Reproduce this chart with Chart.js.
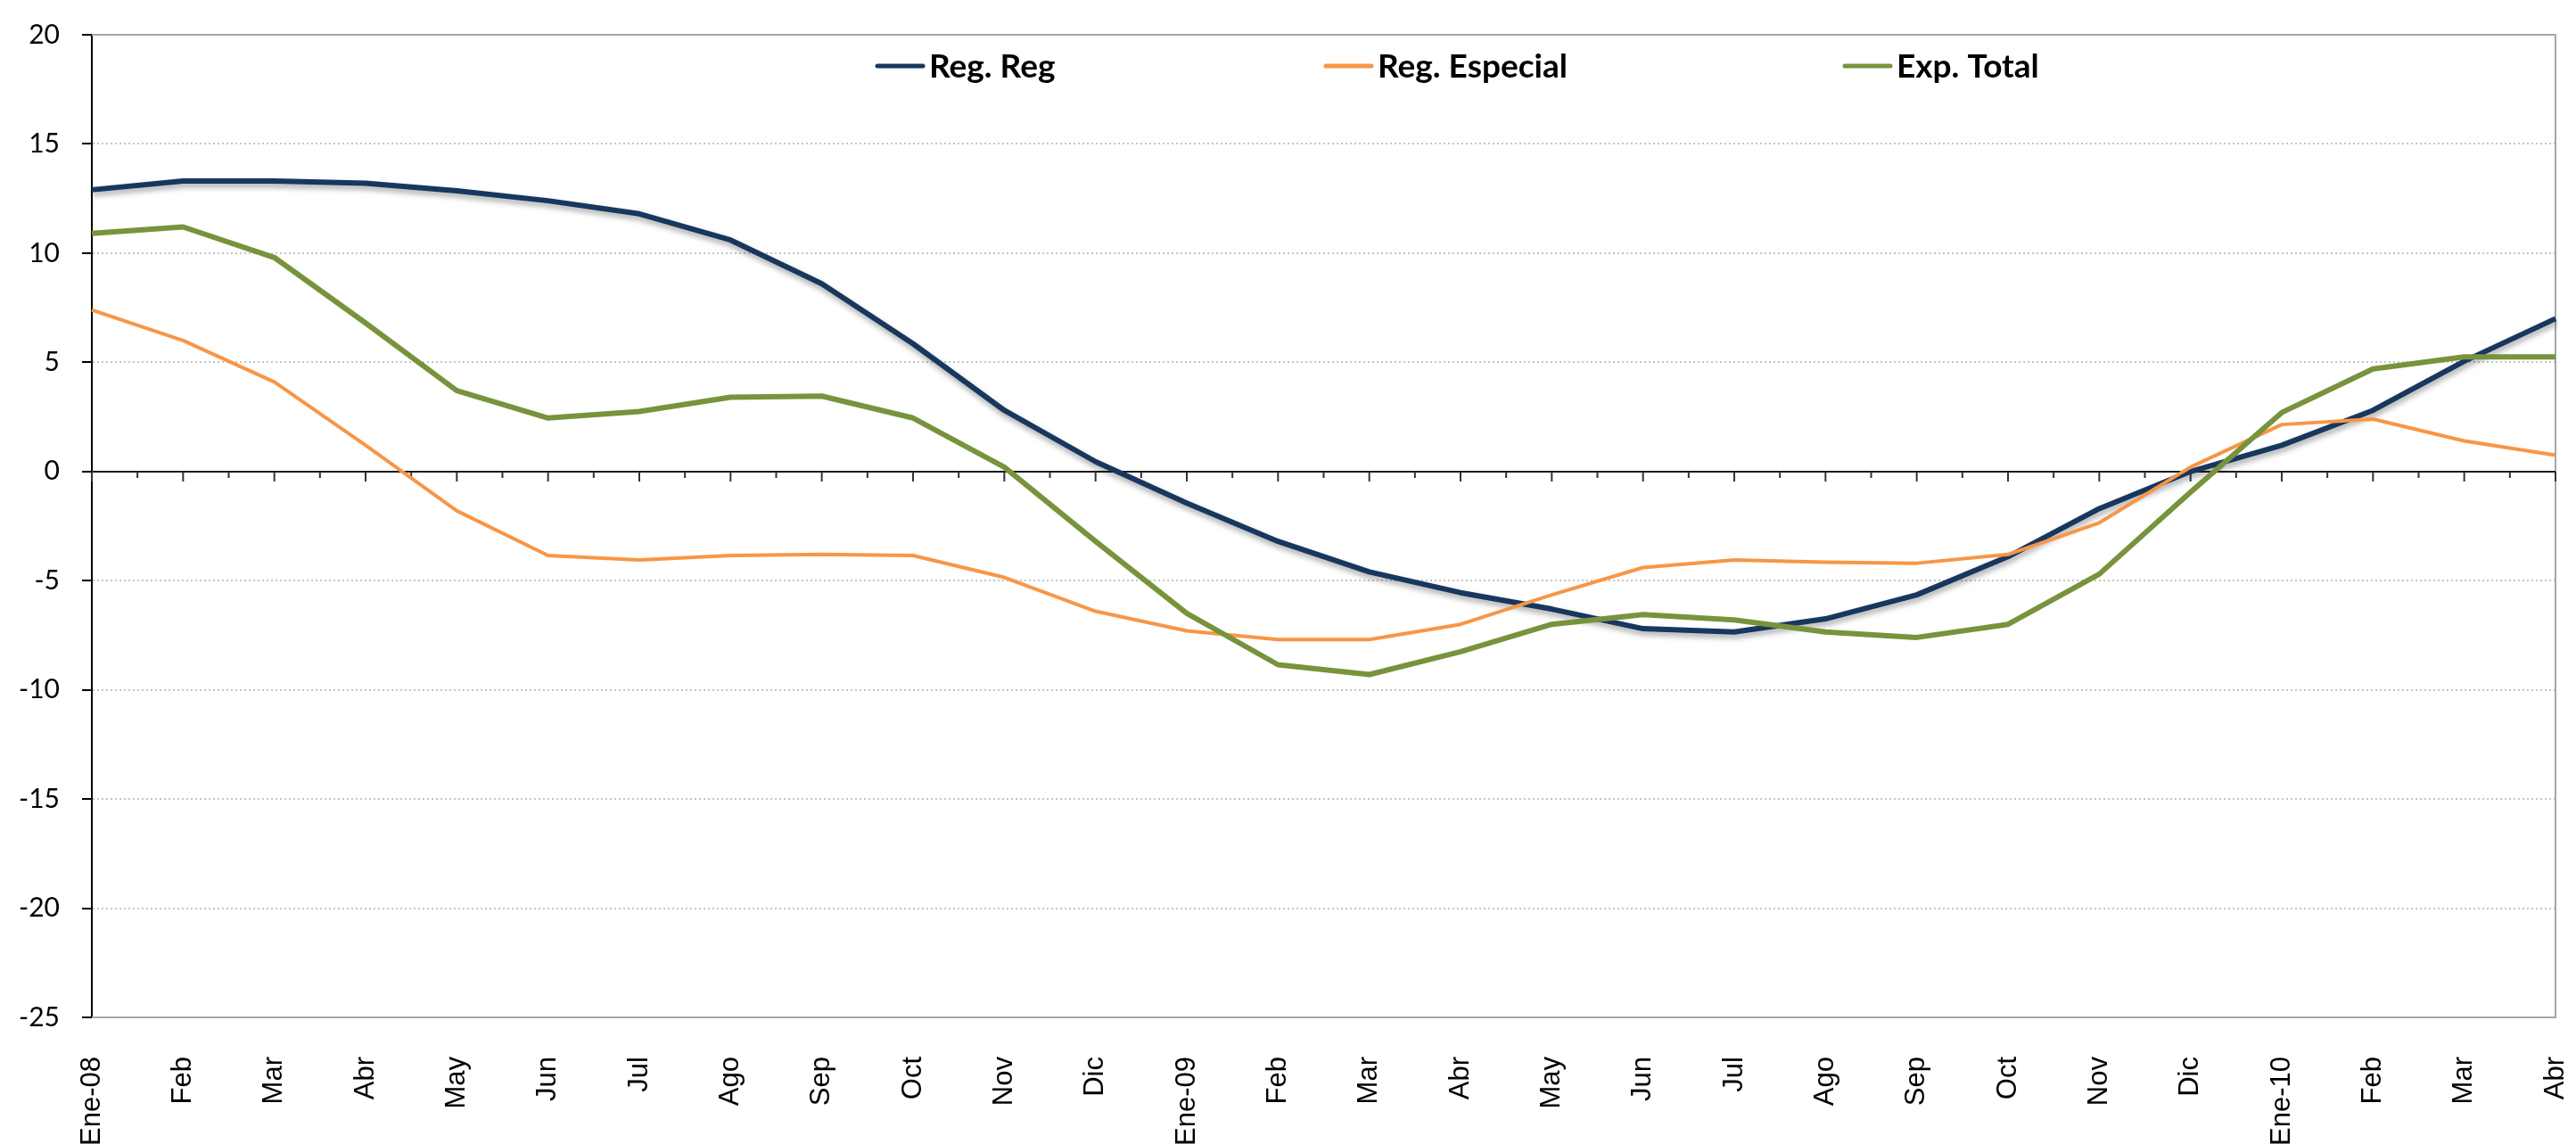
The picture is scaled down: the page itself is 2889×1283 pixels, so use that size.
<!DOCTYPE html>
<html>
<head>
<meta charset="utf-8">
<script src="https://cdn.jsdelivr.net/npm/chart.js@4.4.1/dist/chart.umd.min.js"></script>
<style>
  html, body { margin: 0; padding: 0; background: #fff; overflow: hidden; }
  #wrap { width: 2889px; height: 1283px; }
</style>
</head>
<body>
<div id="wrap"><canvas id="c" width="2889" height="1283" style="width:2889px;height:1283px"></canvas></div>
<script>
const categories = ['Ene-08','Feb','Mar','Abr','May','Jun','Jul','Ago','Sep','Oct','Nov','Dic',
                    'Ene-09','Feb','Mar','Abr','May','Jun','Jul','Ago','Sep','Oct','Nov','Dic',
                    'Ene-10','Feb','Mar','Abr'];
const seriesNames = ['Reg. Reg', 'Reg. Especial', 'Exp. Total'];
const regReg   = [12.9,13.3,13.3,13.2,12.85,12.4,11.8,10.6,8.6,5.85,2.8,0.45,-1.45,-3.2,-4.6,-5.55,-6.3,-7.2,-7.35,-6.75,-5.65,-3.9,-1.7,0.0,1.2,2.8,5.05,7.0];
const regEsp   = [7.4,6.0,4.1,1.2,-1.8,-3.85,-4.05,-3.85,-3.8,-3.85,-4.85,-6.4,-7.3,-7.7,-7.7,-7.0,-5.65,-4.4,-4.05,-4.15,-4.2,-3.8,-2.35,0.2,2.15,2.4,1.4,0.75];
const expTotal = [10.9,11.2,9.8,6.8,3.7,2.45,2.75,3.4,3.45,2.45,0.2,-3.2,-6.5,-8.85,-9.3,-8.25,-7.0,-6.55,-6.8,-7.35,-7.6,-7.0,-4.7,-0.95,2.7,4.7,5.25,5.25];
const yMin = -25, yMax = 20, yStep = 5;

const COLORS = ['#17375E', '#F79646', '#77933C'];

// Shadow for first series
const shadowPlugin = {
  id: 'shadow',
  beforeDatasetDraw(chart, args) {
    if (args.index === 0) {
      const ctx = chart.ctx;
      ctx.save();
      ctx.shadowColor = 'rgba(0,0,0,0.35)';
      ctx.shadowBlur = 6;
      ctx.shadowOffsetX = 1;
      ctx.shadowOffsetY = 4;
    }
  },
  afterDatasetDraw(chart, args) {
    if (args.index === 0) chart.ctx.restore();
  }
};

// Frame, zero line and its ticks
const framePlugin = {
  id: 'frame',
  beforeDatasetsDraw(chart) {
    const {ctx, chartArea: a, scales: {x, y}} = chart;
    ctx.save();
    ctx.strokeStyle = '#a6a6a6';
    ctx.lineWidth = 2;
    ctx.beginPath();
    ctx.moveTo(a.left, a.top); ctx.lineTo(a.right, a.top);
    ctx.lineTo(a.right, a.bottom); ctx.lineTo(a.left, a.bottom);
    ctx.stroke();
    const y0 = Math.round(y.getPixelForValue(0));
    ctx.strokeStyle = '#1a1a1a';
    ctx.lineWidth = 2;
    ctx.beginPath();
    ctx.moveTo(a.left, y0); ctx.lineTo(a.right, y0);
    ctx.stroke();
    ctx.strokeStyle = '#333';
    ctx.lineWidth = 2;
    const n = chart.data.labels.length;
    ctx.beginPath();
    for (let i = 0; i < n; i++) {
      const px = x.getPixelForValue(i);
      ctx.moveTo(px, y0); ctx.lineTo(px, y0 + 11);
      if (i < n - 1) {
        const mx = (px + x.getPixelForValue(i + 1)) / 2;
        ctx.moveTo(mx, y0); ctx.lineTo(mx, y0 + 7);
      }
    }
    ctx.stroke();
    ctx.restore();
  }
};

// Legend inside plot
const legendPlugin = {
  id: 'inlegend',
  afterDraw(chart) {
    const ctx = chart.ctx;
    const starts = [982, 1485, 2067];
    const lineLen = 55, ly = 74;
    ctx.save();
    chart.data.datasets.forEach((ds, i) => {
      const x0 = starts[i];
      ctx.strokeStyle = ds.borderColor;
      ctx.lineWidth = 5;
      ctx.lineCap = 'round';
      ctx.beginPath();
      ctx.moveTo(x0 + 2, ly); ctx.lineTo(x0 + lineLen - 2, ly);
      ctx.stroke();
      ctx.fillStyle = '#000';
      ctx.font = 'bold 37px Lato';
      ctx.textBaseline = 'alphabetic';
      ctx.textAlign = 'left';
      ctx.fillText(ds.label, x0 + lineLen + 5, 87);
    });
    ctx.restore();
  }
};

new Chart(document.getElementById('c'), {
  type: 'line',
  data: {
    labels: categories,
    datasets: [
      { label: seriesNames[0], data: regReg,   borderColor: COLORS[0], backgroundColor: COLORS[0], borderWidth: 6, order: 2 },
      { label: seriesNames[1], data: regEsp,   borderColor: COLORS[1], backgroundColor: COLORS[1], borderWidth: 4, order: 1 },
      { label: seriesNames[2], data: expTotal, borderColor: COLORS[2], backgroundColor: COLORS[2], borderWidth: 6, order: 0 }
    ]
  },
  options: {
    responsive: false,
    animation: false,
    devicePixelRatio: 1,
    layout: { padding: { left: 0, right: 23, top: 39, bottom: 0 } },
    elements: {
      point: { radius: 0, hoverRadius: 0 },
      line: { tension: 0, borderJoinStyle: 'round', borderCapStyle: 'butt' }
    },
    plugins: {
      legend: { display: false },
      tooltip: { enabled: false },
      title: { display: false }
    },
    scales: {
      x: {
        type: 'category',
        offset: false,
        grid: { display: false },
        border: { display: false },
        ticks: {
          autoSkip: false,
          maxRotation: 90,
          minRotation: 90,
          padding: 36,
          color: '#000',
          font: { family: 'Liberation Sans', size: 31 }
        },
        afterFit(scale) {
          scale.height = 142;
          scale.paddingLeft = 0;
          scale.paddingRight = 0;
        }
      },
      y: {
        min: yMin,
        max: yMax,
        ticks: {
          stepSize: yStep,
          padding: 25,
          color: '#000',
          font: { family: 'Lato', size: 30 }
        },
        grid: {
          color: (c) => {
            const v = c.tick && c.tick.value;
            return (v === 0 || v === yMin || v === yMax) ? 'rgba(0,0,0,0)' : '#c4c4c4';
          },
          lineWidth: 2,
          drawTicks: true,
          tickLength: 11,
          tickColor: '#000',
          tickWidth: 2,
          tickBorderDash: []
        },
        border: { display: true, color: '#000', width: 2, dash: [2, 3] },
        afterFit(scale) {
          scale.width = 103;
          scale.paddingTop = 0;
          scale.paddingBottom = 0;
        }
      }
    }
  },
  plugins: [shadowPlugin, framePlugin, legendPlugin]
});
</script>
</body>
</html>
